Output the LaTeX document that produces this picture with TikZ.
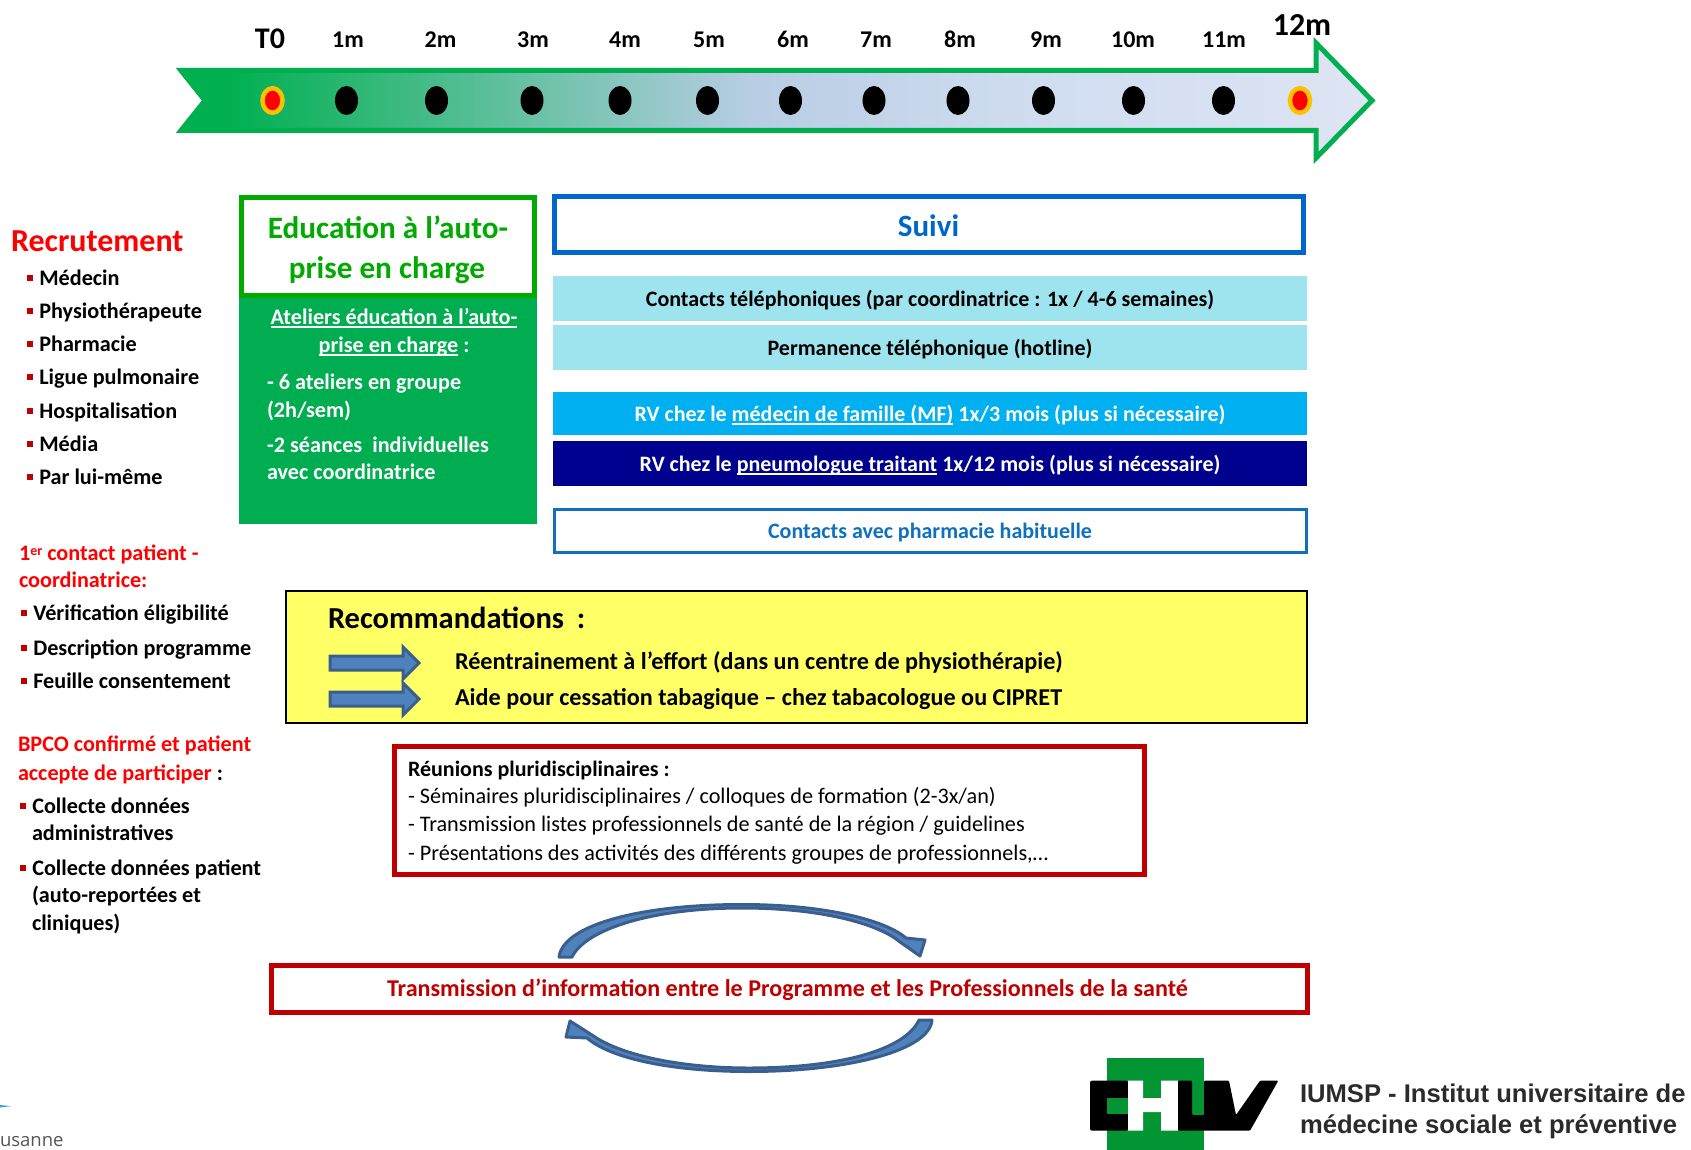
\documentclass[tikz,border=0pt]{standalone}
\usepackage{fontspec}
\usetikzlibrary{shapes.geometric}
\setmainfont{Carlito}
\newfontfamily\instfont{Liberation Sans}
\newfontfamily\cityfont{Open Sans}

\definecolor{tlgreen}{HTML}{00B050}
\definecolor{tlmid}{HTML}{B8CDE4}
\definecolor{tlpale}{HTML}{CFDCF0}
\definecolor{tlend}{HTML}{DEE5F4}
\definecolor{milestone}{HTML}{FFC000}
\definecolor{edugreen}{HTML}{00AA00}
\definecolor{edubody}{HTML}{00AD50}
\definecolor{suiviblue}{HTML}{0066CC}
\definecolor{pharmablue}{HTML}{0F70BD}
\definecolor{barcyan}{HTML}{9EE4EF}
\definecolor{barsky}{HTML}{00B0F0}
\definecolor{barnavy}{HTML}{00008E}
\definecolor{recoyellow}{HTML}{FFFF66}
\definecolor{meetred}{HTML}{C00000}
\definecolor{arrowfill}{HTML}{4F81BD}
\definecolor{arrowedge}{HTML}{3A5F8F}
\definecolor{chuvgreen}{HTML}{039433}
\definecolor{insttext}{HTML}{2B2B2B}
\definecolor{citytext}{HTML}{555555}
\definecolor{cityblue}{HTML}{3AA0D8}

\pgfdeclarehorizontalshading{timelinefade}{100bp}{color(0bp)=(tlgreen); color(27bp)=(tlgreen);
  color(49bp)=(tlmid); color(60bp)=(tlpale); color(75bp)=(tlend); color(100bp)=(tlend)}

\newcommand{\bul}{\textcolor{meetred}{\rule[4pt]{6pt}{6pt}}\hspace{6.3pt}}
\newcommand{\ruled}[1]{\leavevmode\setbox0=\hbox{#1}\rlap{\rule[-3.5pt]{\wd0}{1.5pt}}\box0\relax}

\tikzset{%
          txt/.style={
            inner sep=0,
            outer sep=0,
            anchor=base west,
            font=\bfseries\fontsize{22.2}{26}\selectfont
          },
          month/.style={
            inner sep=0,
            anchor=base,
            font=\bfseries\fontsize{24}{28}\selectfont
          },
          dot/.style={
            ellipse,
            inner sep=0,
            fill=black,
            minimum width=23,
            minimum height=29
          },
          milestone dot/.style={
            ellipse,
            inner sep=0,
            fill=red,
            draw=milestone,
            line width=4.5,
            minimum width=20,
            minimum height=24.5
          },
          bar/.style={
            rectangle,
            inner sep=0,
            outer sep=0,
            minimum width=754,
            text height=19,
            text depth=3.8,
            font=\bfseries\fontsize{22}{26}\selectfont
          },
          frame/.style={
            rectangle,
            inner sep=0,
            outer sep=0,
            fill=white
          },
          reco arrow/.style={
            fill=arrowfill,
            draw=arrowedge,
            line width=3
          },
          loop arrow/.style={
            fill=arrowfill,
            draw=arrowedge,
            line width=3,
            line join=round
          },
        }

\begin{document}
\begin{tikzpicture}[x=1pt, y=-1pt]
        \useasboundingbox (0,0) rectangle (1691,1150);

        % time line
        \shadedraw [shading=timelinefade, draw=tlgreen, line width=5, miter limit=20]
          (181,70.5) -- (1316,70.5) -- (1316,43) -- (1372,100.5) -- (1316,158) -- (1316,130.5) -- (181,130.5) -- (205,100.5) -- cycle;

        \node [month, font=\bfseries\fontsize{30}{34}\selectfont] (month-0) at (270,49) {T0};
        \node [month, font=\bfseries\fontsize{32}{34}\selectfont] (month-12) at (1302,36) {12m};
        \foreach \i/\x in {1/348,2/440.5,3/533,4/625,5/709,6/793,7/876,8/960,9/1046,10/1133,11/1224}
          \node [month] (month-\i) at (\x,48) {\i m};

        \foreach \i/\x in {1/346.5,2/436.5,3/532,4/620,5/707.5,6/790.5,7/874,8/958,9/1043.5,10/1133.5,11/1223.5}
          \node [dot] (dot-\i) at (\x,100.5) {};
        \node [milestone dot] (dot-0) at (272.5,100.5) {};
        \node [milestone dot] (dot-12) at (1300,100.5) {};

        % recruitment column
        \node [txt, text=red, font=\bfseries\fontsize{32}{34}\selectfont] (recrutement) at (11,252) {Recrutement};
        \foreach \i/\y/\t in {1/285/Médecin,2/318/Physiothérapeute,3/351/Pharmacie,4/384/Ligue pulmonaire,5/418/Hospitalisation,6/451/Média,7/484/Par lui-même}
          \node [txt] (source-\i) at (27,\y) {\bul\t};

        \node [txt, text=red] (contact-1) at (19,560) {1\raisebox{5pt}{\fontsize{14}{14}\selectfont er} contact patient -};
        \node [txt, text=red] (contact-2) at (19,587) {coordinatrice:};
        \foreach \i/\y/\t in {1/620/Vérification éligibilité,2/655/Description programme,3/688/Feuille consentement}
          \node [txt] (check-\i) at (21,\y) {\bul\t};

        \node [txt, text=red] (bpco-1) at (18,751) {BPCO confirmé et patient};
        \node [txt, text=red] (bpco-2) at (18,780) {accepte de participer~\textcolor{black}{:}};
        \node [txt] (collect-1) at (20,813) {\bul Collecte données};
        \node [txt] (collect-1b) at (32,840) {administratives};
        \node [txt] (collect-2) at (20,875) {\bul Collecte données patient};
        \node [txt] (collect-2b) at (32,902) {(auto-reportées et};
        \node [txt] (collect-2c) at (32,930) {cliniques)};

        % education
        \node [frame, fill=edubody, minimum width=298, minimum height=230] (edu-body) at (388,409) {};
        \node [frame, draw=edugreen, line width=5, minimum width=293, minimum height=97] (edu-head) at (388,246.5) {};
        \node [txt, anchor=base, text=edugreen, font=\bfseries\fontsize{31.2}{34}\selectfont] (edu-head-1) at (388,239) {Education à l’auto-};
        \node [txt, anchor=base, text=edugreen, font=\bfseries\fontsize{31.2}{34}\selectfont] (edu-head-2) at (387,279) {prise en charge};
        \node [txt, text=white, anchor=base] (edu-1) at (394,324) {\ruled{Ateliers éducation à l’auto-}};
        \node [txt, text=white, anchor=base] (edu-2) at (394,352) {\ruled{prise en charge} :};
        \node [txt, text=white] (edu-3) at (267,389) {- 6 ateliers en groupe};
        \node [txt, text=white] (edu-4) at (267,417) {(2h/sem)};
        \node [txt, text=white] (edu-5) at (267,452) {-2 séances\hspace{5pt} individuelles};
        \node [txt, text=white] (edu-6) at (267,479) {avec coordinatrice};

        % follow-up
        \node [frame, draw=suiviblue, line width=5, minimum width=749, minimum height=56, text height=28, text depth=4, text=suiviblue, font=\bfseries\fontsize{31}{34}\selectfont] (suivi) at (928.5,224.5) {Suivi};
        \node [bar, fill=barcyan, minimum height=45] (bar-contacts) at (930,298.5) {Contacts téléphoniques (par coordinatrice : 1x / 4-6 semaines)};
        \node [bar, fill=barcyan, minimum height=45] (bar-hotline) at (930,347.5) {Permanence téléphonique (hotline)};
        \node [bar, fill=barsky, minimum height=43, text=white] (bar-mf) at (930,413.5) {RV chez le \ruled{médecin de famille (MF)} 1x/3 mois (plus si nécessaire)};
        \node [bar, fill=barnavy, minimum height=45, text=white] (bar-pneumo) at (930,463.5) {RV chez le \ruled{pneumologue traitant} 1x/12 mois (plus si nécessaire)};
        \node [bar, frame, draw=pharmablue, line width=3, minimum width=752, minimum height=43, text height=20, text=pharmablue] (pharmacie) at (930,530.5) {Contacts avec pharmacie habituelle};

        % recommendations
        \node [frame, fill=recoyellow, draw=black, line width=2, minimum width=1021, minimum height=132] (reco) at (796.5,656.5) {};
        \node [txt, font=\bfseries\fontsize{30.5}{34}\selectfont] (reco-title) at (328,628) {Recommandations\hspace{6pt} :};
        \foreach \y in {663,699}
          \path [reco arrow, shift={(329,\y)}] (1,-7) -- (74,-7) -- (74,-16) -- (90,0) -- (74,16) -- (74,7) -- (1,7) -- cycle;
        \node [txt, font=\bfseries\fontsize{24.2}{28}\selectfont] (reco-1) at (455,669) {Réentrainement à l’effort (dans un centre de physiothérapie)};
        \node [txt, font=\bfseries\fontsize{24.2}{28}\selectfont] (reco-2) at (455,705) {Aide pour cessation tabagique – chez tabacologue ou CIPRET};

        % meetings
        \node [frame, draw=meetred, line width=5, minimum width=750, minimum height=128] (reunions) at (769.5,810.5) {};
        \node [txt, font=\bfseries\fontsize{22}{26}\selectfont] (reunions-0) at (408,776) {Réunions pluridisciplinaires :};
        \node [txt, font=\fontsize{22.2}{26}\selectfont] (reunions-1) at (408,803) {- Séminaires pluridisciplinaires / colloques de formation (2-3x/an)};
        \node [txt, font=\fontsize{22.2}{26}\selectfont] (reunions-2) at (408,831) {- Transmission listes professionnels de santé de la région / guidelines};
        \node [txt, font=\fontsize{22.2}{26}\selectfont] (reunions-3) at (408,860) {- Présentations des activités des différents groupes de professionnels,…};

        % information loop
        \node [frame, draw=meetred, line width=5, minimum width=1036, minimum height=47, text height=17, text depth=3, text=meetred, font=\bfseries\fontsize{24.1}{28}\selectfont] (transmission) at (789,989) {Transmission d’information entre le Programme et les Professionnels de la santé\hspace*{3pt}};
        \path [loop arrow] (559,957) .. controls (563,925) and (640,904.5) .. (742,904.5) .. controls (825,904.5) and (885,920) .. (906,938)
          -- (925,940) -- (920,956) -- (900,942) .. controls (880,925) and (825,908) .. (742,908) .. controls (650,908) and (585,930) .. (572,957) -- cycle;
        \path [loop arrow] (932,1020) .. controls (930,1050) and (850,1071.5) .. (749,1071.5) .. controls (670,1071.5) and (610,1058) .. (587,1038)
          -- (566,1037) -- (570,1021) -- (592,1035) .. controls (620,1055) and (680,1068) .. (749,1068) .. controls (840,1068) and (905,1050) .. (919,1020) -- cycle;

        % logos
        \fill [chuvgreen] (1106.5,1058) rectangle (1204,1150);
        \fill [black, rounded corners=2] (1090,1080.7) -- (1128,1080.7) -- (1128,1130.7) -- (1090,1130.7) -- cycle;
        \fill [chuvgreen] (1106.5,1098) rectangle (1128,1114);
        \fill [white] (1128,1080.7) rectangle (1143,1130.7) (1161,1080.7) rectangle (1178,1130.7) (1143,1098) rectangle (1161,1112);
        \fill [black, rounded corners=1] (1178,1080.7) -- (1192,1080.7) -- (1192,1115) -- (1204,1115) -- (1204,1080.7) -- (1229,1080.7) -- (1236,1115) -- (1260,1080.7) -- (1278.3,1080.7) -- (1250,1130.7) -- (1178,1130.7) -- cycle;
        \node [txt, text=insttext, font=\instfont\bfseries\fontsize{25.6}{30}\selectfont] (inst-1) at (1300,1102) {IUMSP - Institut universitaire de};
        \node [txt, text=insttext, font=\instfont\bfseries\fontsize{25.6}{30}\selectfont] (inst-2) at (1300,1133) {médecine sociale et préventive};
        \fill [cityblue] (0,1105) -- (11,1106.2) -- (0,1107.5) -- cycle;
        \node [txt, text=citytext, font=\cityfont\fontsize{18.5}{22}\selectfont] (city) at (0,1146) {usanne};
\end{tikzpicture}
\end{document}
